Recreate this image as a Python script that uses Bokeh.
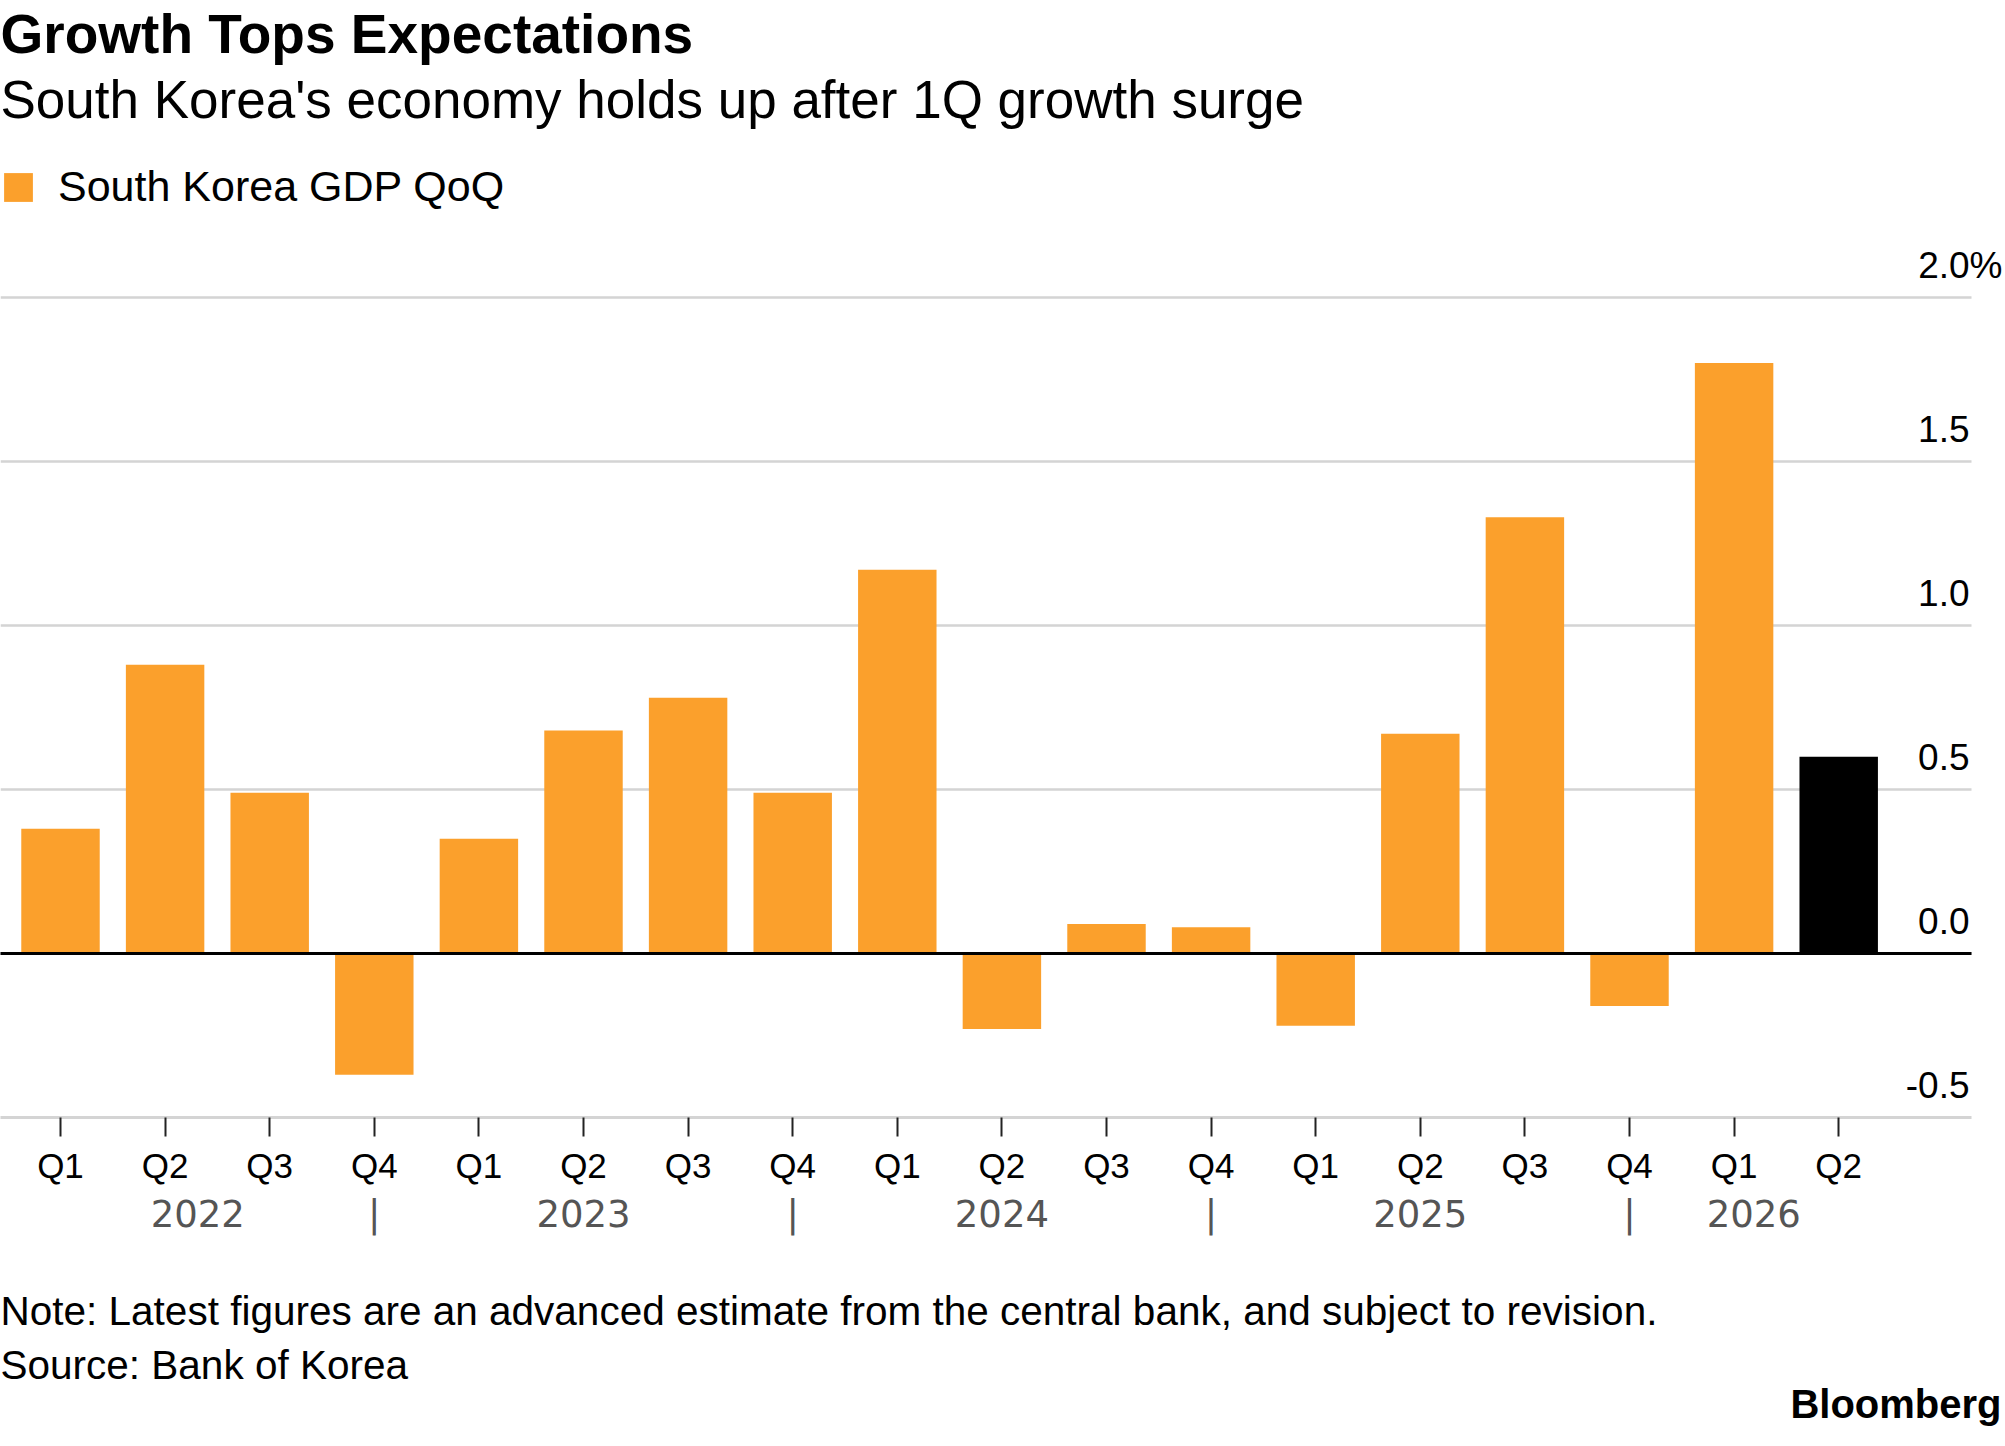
from bokeh.plotting import figure
from bokeh.layouts import column
from bokeh.models import (ColumnDataSource, LinearAxis, FixedTicker, Grid, Title,
                          Legend, LegendItem, LabelSet, Range1d)
from bokeh.core.properties import value
from bokeh.embed import file_html
from bokeh.resources import INLINE

# ---------------- data ----------------
title_text = "Growth Tops Expectations"
subtitle_text = "South Korea's economy holds up after 1Q growth surge"
series_name = "South Korea GDP QoQ"
note_text = "Note: Latest figures are an advanced estimate from the central bank, and subject to revision."
source_text = "Source: Bank of Korea"
brand_text = "Bloomberg"

quarters = ["Q1", "Q2", "Q3", "Q4", "Q1", "Q2", "Q3", "Q4", "Q1", "Q2", "Q3", "Q4",
            "Q1", "Q2", "Q3", "Q4", "Q1", "Q2"]
bar_years = ["2022", "2022", "2022", "2022", "2023", "2023", "2023", "2023",
             "2024", "2024", "2024", "2024", "2025", "2025", "2025", "2025",
             "2026", "2026"]
gdp_qoq = [0.38, 0.88, 0.49, -0.37, 0.35, 0.68, 0.78, 0.49, 1.17, -0.23, 0.09, 0.08,
           -0.22, 0.67, 1.33, -0.16, 1.80, 0.60]
y_ticks = [-0.5, 0.0, 0.5, 1.0, 1.5, 2.0]
y_tick_labels = ["-0.5", "0.0", "0.5", "1.0", "1.5", "2.0%"]

# ---------------- styling / layout ----------------
FONT = "Liberation Sans"
ORANGE = "#FBA02C"
HIGHLIGHT = "#000000"
GRID_COLOR = "#d4d4d4"
BAR_WIDTH = 0.75
FIG_W = 2004
FRAME_H = 986
PX_PER_BAR = 104.6
X_START = -60 / PX_PER_BAR
X_END = X_START + FIG_W / PX_PER_BAR
GRID_RIGHT = X_START + 1971 / PX_PER_BAR
Y_START = -0.5
Y_END = Y_START + FRAME_H / 328.0
FOOT_H = 192

n = len(gdp_qoq)
xs = list(range(n))
hist = ColumnDataSource(dict(x=xs[:-1], top=gdp_qoq[:-1]))
latest = ColumnDataSource(dict(x=xs[-1:], top=gdp_qoq[-1:]))

p = figure(frame_width=FIG_W, frame_height=FRAME_H,
           x_range=Range1d(X_START, X_END), y_range=Range1d(Y_START, Y_END),
           x_axis_location=None, y_axis_location=None,
           toolbar_location=None, output_backend="svg",
           min_border_left=0, min_border_right=0, min_border_top=0, min_border_bottom=0)
p.outline_line_color = None
p.background_fill_color = "white"
p.border_fill_color = "white"
p.center = [r for r in p.center if not isinstance(r, Grid)]

has_cross = "cross_bounds" in Grid.properties()

# horizontal grid lines
grid = Grid(dimension=1, ticker=FixedTicker(ticks=y_ticks),
            grid_line_color=GRID_COLOR, grid_line_width=2.5)
zero_line = Grid(dimension=1, ticker=FixedTicker(ticks=[0.0]),
                 grid_line_color="black", grid_line_width=3, level="annotation")
if has_cross:
    grid.cross_bounds = (X_START, GRID_RIGHT)
    zero_line.cross_bounds = (X_START, GRID_RIGHT)
    p.add_layout(grid)
    p.add_layout(zero_line)
else:
    p.segment(x0=[X_START] * len(y_ticks), x1=[GRID_RIGHT] * len(y_ticks), y0=y_ticks, y1=y_ticks,
              line_color=GRID_COLOR, line_width=2.5, level="underlay")

r_hist = p.vbar(x="x", top="top", bottom=0, width=BAR_WIDTH, source=hist,
                fill_color=ORANGE, line_color=None)
p.vbar(x="x", top="top", bottom=0, width=BAR_WIDTH, source=latest,
       fill_color=HIGHLIGHT, line_color=None)
if not has_cross:
    p.segment(x0=[X_START], x1=[GRID_RIGHT], y0=[0.0], y1=[0.0], line_color="black", line_width=3)

# y tick labels sitting above gridlines on the right
ysrc = ColumnDataSource(dict(
    x=[GRID_RIGHT] * len(y_ticks), y=y_ticks, text=y_tick_labels,
    xo=[31 if t.endswith("%") else -2 for t in y_tick_labels]))
p.add_layout(LabelSet(x="x", y="y", text="text", source=ysrc, x_offset="xo", y_offset=20,
                      text_align="right", text_baseline="alphabetic",
                      text_font=value(FONT), text_font_size=value("37px"),
                      text_color="#000000"))

# quarter axis
q_axis = LinearAxis(ticker=FixedTicker(ticks=xs), bounds=(X_START, GRID_RIGHT),
                    major_label_overrides={i: q for i, q in enumerate(quarters)})
q_axis.axis_line_color = GRID_COLOR
q_axis.axis_line_width = 3
q_axis.major_tick_line_color = "#222222"
q_axis.major_tick_line_width = 2
q_axis.major_tick_in = 0
q_axis.major_tick_out = 19
q_axis.minor_tick_line_color = None
q_axis.major_label_standoff = 9
q_axis.major_label_text_font = FONT
q_axis.major_label_text_font_size = "35px"
q_axis.major_label_text_color = "#000000"
p.add_layout(q_axis, "below")

# year axis: year names centred in their span, "|" at each year's Q4
groups = {}
for i, yv in enumerate(bar_years):
    groups.setdefault(yv, []).append(i)
year_ticks, year_over = [], {}
names = list(groups.keys())
for k, yv in enumerate(names):
    ii = groups[yv]
    left = ii[0] - 1 if k > 0 else ii[0] - BAR_WIDTH / 2
    right = ii[-1] if len(ii) == 4 else ii[-1] + BAR_WIDTH / 2
    c = (left + right) / 2
    year_ticks.append(c)
    year_over[c] = yv
    if len(ii) == 4 and k < len(names) - 1:
        year_ticks.append(float(ii[-1]))
        year_over[float(ii[-1])] = "|"
y_axis2 = LinearAxis(ticker=FixedTicker(ticks=sorted(year_ticks)),
                     major_label_overrides=year_over)
y_axis2.axis_line_color = None
y_axis2.major_tick_line_color = None
y_axis2.minor_tick_line_color = None
y_axis2.major_tick_in = 0
y_axis2.major_tick_out = 0
y_axis2.major_label_standoff = 5
y_axis2.major_label_text_font = "DejaVu Sans"
y_axis2.major_label_text_font_size = "37px"
y_axis2.major_label_text_color = "#555555"
p.add_layout(y_axis2, "below")

# legend inside the top of the frame
legend = Legend(items=[LegendItem(label=series_name, renderers=[r_hist])],
                location=(0, FRAME_H - 34 - 46), orientation="horizontal",
                glyph_width=36, glyph_height=36, label_standoff=22,
                label_text_font=FONT, label_text_font_size="43px", label_text_color="#000000",
                padding=0, margin=0, border_line_color=None, background_fill_alpha=0)
p.add_layout(legend)

# subtitle and title above the frame
p.add_layout(Title(text=subtitle_text, align="left", text_font=FONT, text_font_size="53px",
                   text_font_style="normal", text_color="#000000", standoff=6), "above")
p.add_layout(Title(text=title_text, align="left", text_font=FONT, text_font_size="55px",
                   text_font_style="bold", text_color="#000000", standoff=0), "above")

# ---------------- footer (note, source, brand) ----------------
f = figure(width=FIG_W, height=FOOT_H, x_range=Range1d(0, FIG_W), y_range=Range1d(FOOT_H, 0),
           x_axis_location=None, y_axis_location=None, toolbar_location=None,
           output_backend="svg", min_border_left=0, min_border_right=0,
           min_border_top=0, min_border_bottom=0)
f.outline_line_color = None
f.background_fill_color = "white"
f.border_fill_color = "white"
f.center = [r for r in f.center if not isinstance(r, Grid)]
f.text(x=[0, 0], y=[72, 126], text=[note_text, source_text],
       text_font=value(FONT), text_font_size=value("40.5px"), text_color="#000000",
       text_align="left", text_baseline="alphabetic")
f.text(x=[2001], y=[165], text=[brand_text],
       text_font=value(FONT), text_font_size=value("40px"), text_font_style="bold",
       text_color="#000000", text_align="right", text_baseline="alphabetic")

open("out.html", "w").write(file_html(column(p, f), INLINE))
